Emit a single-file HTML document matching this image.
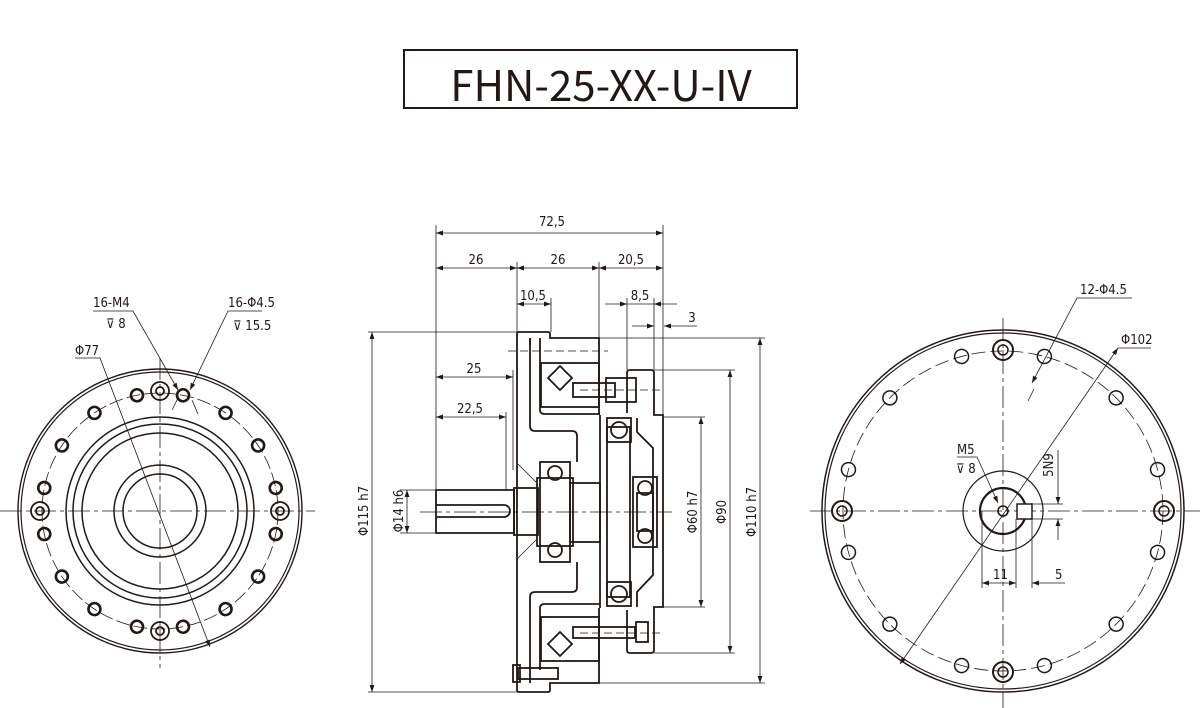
<!DOCTYPE html>
<html><head><meta charset="utf-8"><style>
html,body{margin:0;padding:0;background:#fff;}
svg{display:block;}
text{font-family:"DejaVu Sans Condensed","Liberation Sans",sans-serif;fill:#231815;}
</style></head><body>
<svg width="1200" height="708" viewBox="0 0 1200 708" xmlns="http://www.w3.org/2000/svg">
<defs>
<marker id="a" viewBox="0 0 10 10" refX="10" refY="5" markerWidth="9" markerHeight="7" orient="auto-start-reverse" markerUnits="userSpaceOnUse"><path d="M0,1.5 L10,5 L0,8.5z" fill="#231815"/></marker>
</defs>
<rect x="404" y="50" width="393" height="58" fill="none" stroke="#231815" stroke-width="2"/>
<text x="601" y="101" font-size="42" text-anchor="middle" style="font-family:'Noto Sans CJK JP','Liberation Sans',sans-serif;font-weight:normal">FHN-25-XX-U-IV</text>

<g fill="none" stroke="#231815" stroke-width="1.2">
<!-- LEFT VIEW -->
<g stroke-width="0.8" stroke-dasharray="22,4,4,4">
<line x1="0" y1="511" x2="315" y2="511"/>
<line x1="160" y1="358" x2="160" y2="668"/>
</g>
<circle cx="160" cy="511" r="142" stroke-width="1.4"/>
<circle cx="160" cy="511" r="139"/>
<circle cx="160" cy="511" r="118" stroke-width="0.8" stroke-dasharray="14,4"/>
<circle cx="160" cy="511" r="94" stroke-width="1.5"/>
<circle cx="160" cy="511" r="87" stroke-width="1.5"/>
<circle cx="160" cy="511" r="78" stroke-width="1.5"/>
<circle cx="160" cy="511" r="46" stroke-width="1.5"/>
<circle cx="160" cy="511" r="37" stroke-width="1.5"/>
<g stroke-width="2.6">
<circle cx="160" cy="393" r="6" transform="rotate(11.25 160 511)"/>
<circle cx="160" cy="393" r="6" transform="rotate(33.75 160 511)"/>
<circle cx="160" cy="393" r="6" transform="rotate(56.25 160 511)"/>
<circle cx="160" cy="393" r="6" transform="rotate(78.75 160 511)"/>
<circle cx="160" cy="393" r="6" transform="rotate(101.25 160 511)"/>
<circle cx="160" cy="393" r="6" transform="rotate(123.75 160 511)"/>
<circle cx="160" cy="393" r="6" transform="rotate(146.25 160 511)"/>
<circle cx="160" cy="393" r="6" transform="rotate(168.75 160 511)"/>
<circle cx="160" cy="393" r="6" transform="rotate(191.25 160 511)"/>
<circle cx="160" cy="393" r="6" transform="rotate(213.75 160 511)"/>
<circle cx="160" cy="393" r="6" transform="rotate(236.25 160 511)"/>
<circle cx="160" cy="393" r="6" transform="rotate(258.75 160 511)"/>
<circle cx="160" cy="393" r="6" transform="rotate(281.25 160 511)"/>
<circle cx="160" cy="393" r="6" transform="rotate(303.75 160 511)"/>
<circle cx="160" cy="393" r="6" transform="rotate(326.25 160 511)"/>
<circle cx="160" cy="393" r="6" transform="rotate(348.75 160 511)"/>
</g>
<g stroke-width="1.8">
<circle cx="160" cy="391" r="9"/><circle cx="160" cy="391" r="4"/>
<circle cx="160" cy="631" r="9"/><circle cx="160" cy="631" r="4"/>
<circle cx="40" cy="511" r="9"/><circle cx="40" cy="511" r="4"/>
<circle cx="280" cy="511" r="9"/><circle cx="280" cy="511" r="4"/>
</g>
<g stroke-width="0.8">
<polyline points="75,358 100,358 210,647" marker-end="url(#a)"/>
<polyline points="93,311 133,311 178,390" marker-end="url(#a)"/>
<polyline points="262,311 228,311 190,390" marker-end="url(#a)"/>
<line x1="172" y1="410" x2="178" y2="398"/>
<line x1="198" y1="414" x2="192" y2="400"/>
</g>
</g>
<g font-size="13">
<text x="75" y="355">Φ77</text>
<text x="93" y="307">16-M4</text>
<text x="106" y="328">⊽ 8</text>
<text x="228" y="307">16-Φ4.5</text>
<text x="233" y="330">⊽ 15.5</text>
</g>

<!-- MIDDLE VIEW -->
<g fill="none" stroke="#231815" stroke-width="0.8">
<g stroke-dasharray="22,4,4,4"><line x1="420" y1="512" x2="672" y2="512"/></g>
<line x1="436" y1="225" x2="436" y2="533"/>
<line x1="517" y1="262" x2="517" y2="332"/>
<line x1="599" y1="262" x2="599" y2="338"/>
<line x1="663" y1="225" x2="663" y2="417"/>
<line x1="551" y1="298" x2="551" y2="332"/>
<line x1="627" y1="298" x2="627" y2="370"/>
<line x1="654" y1="298" x2="654" y2="370"/>
<line x1="368" y1="332" x2="517" y2="332"/>
<line x1="368" y1="692" x2="517" y2="692"/>
<line x1="400" y1="490" x2="436" y2="490"/>
<line x1="400" y1="533" x2="436" y2="533"/>
<line x1="513" y1="370" x2="513" y2="470"/>
<line x1="506" y1="412" x2="506" y2="490"/>
<line x1="599" y1="338" x2="765" y2="338"/>
<line x1="599" y1="683" x2="765" y2="683"/>
<line x1="654" y1="370" x2="735" y2="370"/>
<line x1="654" y1="653" x2="735" y2="653"/>
<line x1="663" y1="417" x2="705" y2="417"/>
<line x1="663" y1="607" x2="705" y2="607"/>
<line x1="436" y1="233" x2="663" y2="233" marker-start="url(#a)" marker-end="url(#a)"/>
<line x1="436" y1="268" x2="517" y2="268" marker-start="url(#a)" marker-end="url(#a)"/>
<line x1="517" y1="268" x2="599" y2="268" marker-start="url(#a)" marker-end="url(#a)"/>
<line x1="599" y1="268" x2="663" y2="268" marker-start="url(#a)" marker-end="url(#a)"/>
<line x1="517" y1="304" x2="551" y2="304" marker-start="url(#a)" marker-end="url(#a)"/>
<line x1="605" y1="304" x2="627" y2="304" marker-end="url(#a)"/>
<line x1="627" y1="304" x2="654" y2="304"/>
<line x1="677" y1="304" x2="654" y2="304" marker-end="url(#a)"/>
<line x1="632" y1="326" x2="654" y2="326" marker-end="url(#a)"/>
<line x1="697" y1="326" x2="664" y2="326" marker-end="url(#a)"/>
<line x1="436" y1="377" x2="513" y2="377" marker-start="url(#a)" marker-end="url(#a)"/>
<line x1="436" y1="417" x2="506" y2="417" marker-start="url(#a)" marker-end="url(#a)"/>
<line x1="372" y1="332" x2="372" y2="692" marker-start="url(#a)" marker-end="url(#a)"/>
<line x1="407" y1="490" x2="407" y2="533" marker-start="url(#a)" marker-end="url(#a)"/>
<line x1="701" y1="417" x2="701" y2="607" marker-start="url(#a)" marker-end="url(#a)"/>
<line x1="730" y1="370" x2="730" y2="653" marker-start="url(#a)" marker-end="url(#a)"/>
<line x1="760" y1="338" x2="760" y2="683" marker-start="url(#a)" marker-end="url(#a)"/>
</g>
<g font-size="13" text-anchor="middle">
<text x="552" y="226">72,5</text>
<text x="476" y="264">26</text>
<text x="558" y="264">26</text>
<text x="631" y="264">20,5</text>
<text x="533" y="300">10,5</text>
<text x="640" y="300">8,5</text>
<text x="692" y="322">3</text>
<text x="474" y="373">25</text>
<text x="470" y="413">22,5</text>
<text transform="translate(368,511) rotate(-90)">Φ115 h7</text>
<text transform="translate(403,511) rotate(-90)">Φ14 h6</text>
<text transform="translate(697,512) rotate(-90)">Φ60 h7</text>
<text transform="translate(726,512) rotate(-90)">Φ90</text>
<text transform="translate(756,512) rotate(-90)">Φ110 h7</text>
</g>
<g fill="none" stroke="#231815" stroke-width="1.8">
<path d="M436,490 H514 V533 H436 Z"/>
<path d="M436,505 H504 A6,6 0 0 1 504,517 H436"/>
<rect x="514" y="488" width="24" height="47"/>
<path d="M517,334 Q517,332 519,332 H548 Q550,332 550,334 V338 H599 V415"/>
<path d="M517,334 V690 Q517,692 519,692 H548 Q550,692 550,690 V683 H599 V608"/>
<path d="M530,338 V426 Q530,431 535,431 H572 Q577,431 577,436 V462"/>
<path d="M530,683 V597 Q530,592 535,592 H572 Q577,592 577,587 V562"/>
<path d="M540,345 V410 Q540,414 545,414 H600"/>
<path d="M540,670 V608 Q540,604 545,604 H600"/>
<line x1="530" y1="338" x2="530" y2="345"/>
<line x1="540" y1="338" x2="540" y2="345"/>
<rect x="541" y="363" width="58" height="44"/>
<rect x="541" y="617" width="58" height="44"/>
<path d="M560,366 L572,378 L560,390 L548,378 Z"/>
<path d="M560,632 L572,644 L560,656 L548,644 Z"/>
<rect x="573" y="383" width="42" height="14"/>
<rect x="606" y="378" width="30" height="24"/>
<rect x="573" y="627" width="62" height="11"/>
<rect x="636" y="622" width="12" height="20"/>
<rect x="518" y="668" width="40" height="11"/>
<rect x="513" y="665" width="7" height="17"/>
<rect x="540" y="462" width="30" height="100"/>
<rect x="537" y="478" width="36" height="68"/>
<circle cx="555" cy="473" r="7"/>
<circle cx="555" cy="550" r="7"/>
<rect x="570" y="483" width="30" height="59"/>
<path d="M600,415 V608"/>
<rect x="607" y="427" width="23" height="170"/>
<rect x="607" y="418" width="24" height="24"/>
<circle cx="619" cy="430" r="8"/>
<rect x="607" y="582" width="24" height="24"/>
<circle cx="619" cy="594" r="8"/>
<path d="M627,413 V373 Q627,370 630,370 H651 Q654,370 654,373 V415 H663 V607 H654 V650 Q654,653 651,653 H630 Q627,653 627,650 V610"/>
<path d="M637,418 V432 L653,448 V575 L637,592 V607"/>
<rect x="633" y="477" width="24" height="70"/>
<circle cx="645" cy="488" r="7"/>
<circle cx="645" cy="536" r="7"/>
<rect x="637" y="493" width="16" height="38"/>
<line x1="518" y1="464" x2="536" y2="482" stroke-width="0.8"/>
<line x1="518" y1="558" x2="536" y2="540" stroke-width="0.8"/>
</g>
<g stroke="#231815" stroke-width="0.8" stroke-dasharray="8,4"><line x1="508" y1="351" x2="608" y2="351"/><line x1="580" y1="390" x2="662" y2="390"/><line x1="580" y1="633" x2="662" y2="633"/></g>

<!-- RIGHT VIEW -->
<g fill="none" stroke="#231815" stroke-width="1.2">
<g stroke-width="0.8" stroke-dasharray="22,4,4,4">
<line x1="810" y1="511" x2="1200" y2="511"/>
<line x1="1003" y1="318" x2="1003" y2="708"/>
</g>
<circle cx="1003" cy="511" r="181" stroke-width="1.5"/>
<circle cx="1003" cy="511" r="178"/>
<circle cx="1003" cy="511" r="160" stroke-width="0.8" stroke-dasharray="14,5"/>
<g stroke-width="1.5">
<circle cx="1003" cy="351" r="7" transform="rotate(15 1003 511)"/>
<circle cx="1003" cy="351" r="7" transform="rotate(45 1003 511)"/>
<circle cx="1003" cy="351" r="7" transform="rotate(75 1003 511)"/>
<circle cx="1003" cy="351" r="7" transform="rotate(105 1003 511)"/>
<circle cx="1003" cy="351" r="7" transform="rotate(135 1003 511)"/>
<circle cx="1003" cy="351" r="7" transform="rotate(165 1003 511)"/>
<circle cx="1003" cy="351" r="7" transform="rotate(195 1003 511)"/>
<circle cx="1003" cy="351" r="7" transform="rotate(225 1003 511)"/>
<circle cx="1003" cy="351" r="7" transform="rotate(255 1003 511)"/>
<circle cx="1003" cy="351" r="7" transform="rotate(285 1003 511)"/>
<circle cx="1003" cy="351" r="7" transform="rotate(315 1003 511)"/>
<circle cx="1003" cy="351" r="7" transform="rotate(345 1003 511)"/>
<circle cx="1003" cy="350" r="10" stroke-width="2"/><circle cx="1003" cy="350" r="5"/>
<circle cx="1003" cy="672" r="10" stroke-width="2"/><circle cx="1003" cy="672" r="5"/>
<circle cx="842" cy="511" r="10" stroke-width="2"/><circle cx="842" cy="511" r="5"/>
<circle cx="1164" cy="511" r="10" stroke-width="2"/><circle cx="1164" cy="511" r="5"/>
</g>
<circle cx="1003" cy="511" r="40"/>
<circle cx="1003" cy="511" r="23" stroke-width="2.2"/>
<circle cx="1003" cy="511" r="5" stroke-width="1.6"/>
<rect x="1017" y="504" width="15" height="15" fill="#fff" stroke-width="1.5"/>
<g stroke-width="0.8">
<line x1="982" y1="511" x2="982" y2="588"/>
<line x1="1016" y1="519" x2="1016" y2="588"/>
<line x1="1032" y1="519" x2="1032" y2="588"/>
<line x1="982" y1="583" x2="1016" y2="583" marker-start="url(#a)" marker-end="url(#a)"/>
<line x1="1065" y1="583" x2="1032" y2="583" marker-end="url(#a)"/>
<line x1="1032" y1="504" x2="1063" y2="504"/>
<line x1="1032" y1="519" x2="1063" y2="519"/>
<line x1="1058" y1="450" x2="1058" y2="504" marker-end="url(#a)"/>
<line x1="1058" y1="540" x2="1058" y2="519" marker-end="url(#a)"/>
<line x1="1118" y1="348" x2="900" y2="664" marker-start="url(#a)" marker-end="url(#a)"/>
<line x1="1118" y1="348" x2="1151" y2="348"/>
<polyline points="1132,298 1077,298 1032,383" marker-end="url(#a)"/>
<line x1="1028" y1="401" x2="1034" y2="389"/>
<polyline points="957,457 977,457 998,503" marker-end="url(#a)"/>
</g>
</g>
<g font-size="13">
<text x="1080" y="294">12-Φ4.5</text>
<text x="1121" y="344">Φ102</text>
<text x="957" y="454">M5</text>
<text x="956" y="473">⊽ 8</text>
<text x="993" y="579">11</text>
<text x="1055" y="579">5</text>
<text transform="translate(1053,465) rotate(-90)" text-anchor="middle">5N9</text>
</g>
</svg>
</body></html>
